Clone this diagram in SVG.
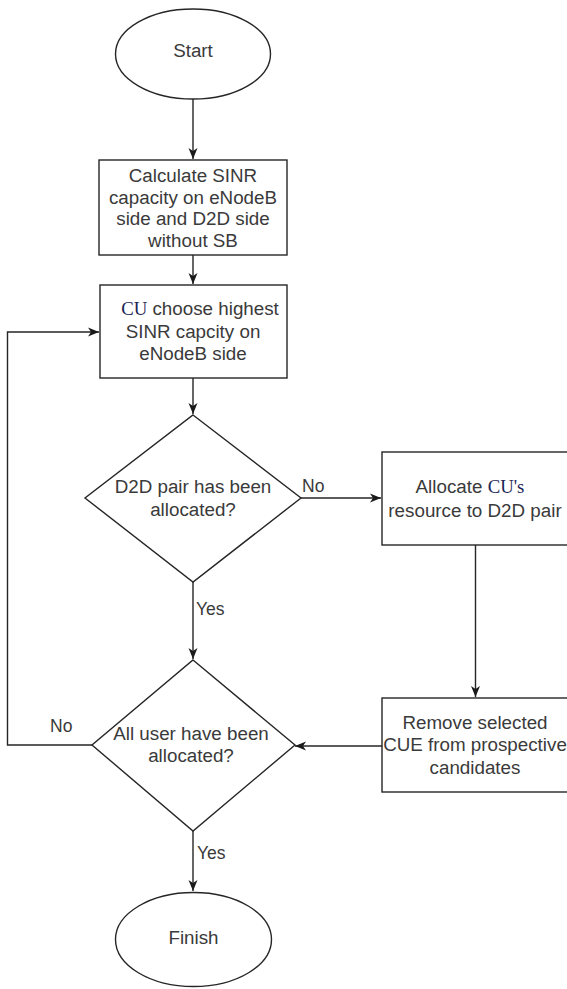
<svg xmlns="http://www.w3.org/2000/svg" width="567" height="989" viewBox="0 0 567 989">
<defs>
<style>
.shape{fill:#ffffff;stroke:#262626;stroke-width:1.4}
.edge{fill:none;stroke:#262626;stroke-width:1.4}
.t{font-family:"Liberation Sans",Arial,sans-serif;font-size:18.8px;fill:#3a3a3a;text-anchor:middle}
.lbl{font-family:"Liberation Sans",Arial,sans-serif;font-size:17.5px;fill:#3a3a3a}
.cu{font-family:"Liberation Serif","Times New Roman",serif;fill:#1c2556}
</style>
<marker id="arr" markerUnits="userSpaceOnUse" markerWidth="12" markerHeight="12" viewBox="0 0 12 12" refX="11" refY="6" orient="auto">
<path d="M0,1.5 L11,6 L0,10.5 L3,6 Z" fill="#1a1a1a"/>
</marker>
</defs>
<rect width="567" height="989" fill="#ffffff"/>
<g id="connectors">
<path class="edge" d="M193,99 V159" marker-end="url(#arr)"/>
<path class="edge" d="M193,255 V284" marker-end="url(#arr)"/>
<path class="edge" d="M193,378 V414" marker-end="url(#arr)"/>
<path class="edge" d="M301,498 H381" marker-end="url(#arr)"/>
<path class="edge" d="M193,582 V659" marker-end="url(#arr)"/>
<path class="edge" d="M475.5,545 V697" marker-end="url(#arr)"/>
<path class="edge" d="M382,746 H295" marker-end="url(#arr)"/>
<path class="edge" d="M92,745 H7.5 V332 H99" marker-end="url(#arr)"/>
<path class="edge" d="M193,831 V891" marker-end="url(#arr)"/>
<text class="lbl" x="302" y="492">No</text>
<text class="lbl" x="196" y="615">Yes</text>
<text class="lbl" x="50" y="732">No</text>
<text class="lbl" x="197" y="859">Yes</text>
</g>
<g id="start">
<ellipse class="shape" cx="193" cy="54" rx="77.5" ry="45"/>
<text class="t" x="193" y="57">Start</text>
</g>
<g id="calc">
<rect class="shape" x="99" y="160" width="188" height="95"/>
<text class="t" x="193" y="182">Calculate SINR</text>
<text class="t" x="193" y="204">capacity on eNodeB</text>
<text class="t" x="193" y="225">side and D2D side</text>
<text class="t" x="193" y="247">without SB</text>
</g>
<g id="choose">
<rect class="shape" x="100" y="285" width="187" height="93"/>
<text class="t" x="200" y="315"><tspan class="cu">CU</tspan> choose highest</text>
<text class="t" x="193" y="338">SINR capcity on</text>
<text class="t" x="193" y="360">eNodeB side</text>
</g>
<g id="d2d-decision">
<path class="shape" d="M193,415 L301,498 L193,582 L85,498 Z"/>
<text class="t" x="193" y="493">D2D pair has been</text>
<text class="t" x="193" y="516">allocated?</text>
</g>
<g id="allocate">
<rect class="shape" x="382" y="452" width="188" height="93"/>
<text class="t" x="470" y="493">Allocate  <tspan class="cu">CU's</tspan></text>
<text class="t" x="475" y="517">resource to D2D pair</text>
</g>
<g id="remove">
<rect class="shape" x="382" y="698" width="188" height="94"/>
<text class="t" x="475" y="729">Remove selected</text>
<text class="t" x="475" y="751">CUE from prospective</text>
<text class="t" x="475" y="774">candidates</text>
</g>
<g id="all-decision">
<path class="shape" d="M193,660 L295,745 L193,831 L92,745 Z"/>
<text class="t" x="191" y="740">All user have been</text>
<text class="t" x="191" y="762">allocated?</text>
</g>
<g id="finish">
<ellipse class="shape" cx="193.5" cy="939.5" rx="78" ry="47"/>
<text class="t" x="193.5" y="944">Finish</text>
</g>
</svg>
